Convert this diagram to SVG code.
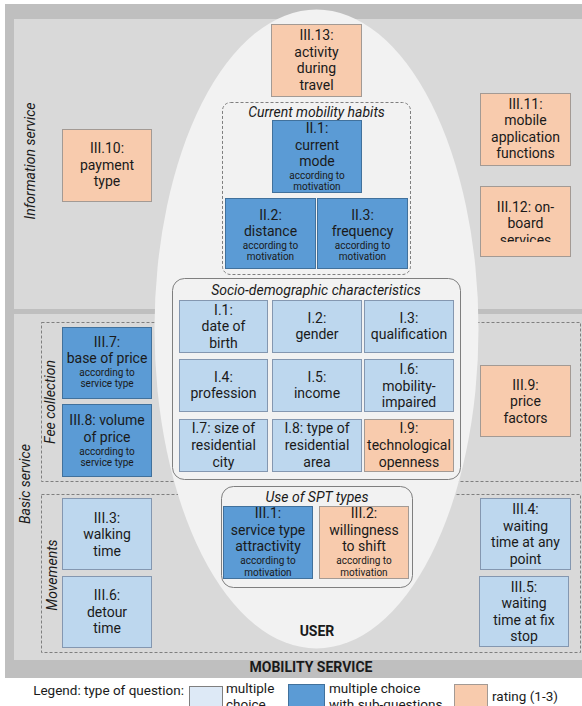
<svg xmlns="http://www.w3.org/2000/svg" width="582" height="706" viewBox="0 0 582 706">
<style>
text{font-family:Roboto,Lato,"DejaVu Sans",sans-serif;fill:#1a1a1a}
.t{font-size:14px;text-anchor:middle}
.s{font-size:10px;text-anchor:middle}
.ttl{font-size:14px;font-style:italic;text-anchor:middle}
.rot{font-size:14px;font-style:italic;text-anchor:middle}
.b{font-weight:bold;text-anchor:middle;font-size:14px}
.lg{font-size:13.5px}
.or{fill:#f8cbad;stroke:#a39a94;stroke-width:1}
.bl{fill:#5b9bd5;stroke:#41719c;stroke-width:1}
.lb{fill:#bdd7ee;stroke:#8497b0;stroke-width:1}
.dash{fill:none;stroke:#7f7f7f;stroke-width:1;stroke-dasharray:3 2}
.grp{fill:#f2f2f2;stroke:#7f7f7f;stroke-width:1}
</style>
<defs>
<clipPath id="clip12"><rect x="480" y="186" width="91" height="56"/></clipPath>
</defs>
<rect x="0" y="0" width="582" height="706" fill="#ffffff"/>
<g id="mobility-service">
<rect x="5" y="4" width="577" height="674" fill="#bfbfbf"/>
<text class="b" x="311" y="672">MOBILITY SERVICE</text>
</g>
<g id="information-service">
<rect x="14" y="19" width="568" height="290" fill="#d9d9d9"/>
<text class="rot" transform="translate(35,161) rotate(-90)">Information service</text>
</g>
<g id="basic-service">
<rect x="14" y="314" width="568" height="346" fill="#d9d9d9"/>
<text class="rot" transform="translate(30,484) rotate(-90)">Basic service</text>
</g>
<g id="fee-collection">
<rect class="dash" x="41.5" y="322.5" width="539" height="159"/>
<text class="rot" transform="translate(55,402) rotate(-90)">Fee collection</text>
</g>
<g id="movements">
<rect class="dash" x="41.5" y="494.5" width="539" height="158"/>
<text class="rot" transform="translate(57,575) rotate(-90)">Movements</text>
</g>
<g id="user">
<ellipse cx="316.5" cy="329" rx="162" ry="319.5" fill="#f2f2f2"/>
<text class="b" x="317" y="636">USER</text>
</g>
<g id="III.13">
<rect class="or" x="271.5" y="24.5" width="90" height="72"/>
<text class="t" x="316.5" y="40">III.13:<tspan x="316.5" y="56.7">activity</tspan><tspan x="316.5" y="73.4">during</tspan><tspan x="316.5" y="90">travel</tspan></text>
</g>
<g id="current-mobility-habits">
<rect class="dash" x="222.5" y="102.5" width="188" height="172" rx="8"/>
<text class="ttl" x="316.5" y="116.5">Current mobility habits</text>
</g>
<g id="II.1">
<rect class="bl" x="272.5" y="120.5" width="89" height="72"/>
<text class="t" x="317" y="133.2">II.1:<tspan x="317" y="149.6">current</tspan><tspan x="317" y="166">mode</tspan><tspan class="s" x="317" y="178.7">according to</tspan><tspan class="s" x="317" y="190.4">motivation</tspan></text>
</g>
<g id="II.2">
<rect class="bl" x="225.5" y="198.5" width="90" height="70"/>
<text class="t" x="270.5" y="219.5">II.2:<tspan x="270.5" y="236">distance</tspan><tspan class="s" x="270.5" y="248.7">according to</tspan><tspan class="s" x="270.5" y="260.4">motivation</tspan></text>
</g>
<g id="II.3">
<rect class="bl" x="317.5" y="198.5" width="90" height="70"/>
<text class="t" x="362.5" y="219.5">II.3:<tspan x="362.5" y="236">frequency</tspan><tspan class="s" x="362.5" y="248.7">according to</tspan><tspan class="s" x="362.5" y="260.4">motivation</tspan></text>
</g>
<g id="socio-demographic">
<rect class="grp" x="172.5" y="278.5" width="288" height="201" rx="12"/>
<text class="ttl" x="316" y="295">Socio-demographic characteristics</text>
</g>
<g id="I.1">
<rect class="lb" x="179.5" y="300.5" width="88" height="52"/>
<text class="t" x="223.5" y="314.5">I.1:<tspan x="223.5" y="331">date of</tspan><tspan x="223.5" y="347.5">birth</tspan></text>
</g>
<g id="I.2">
<rect class="lb" x="272.5" y="300.5" width="89" height="52"/>
<text class="t" x="317" y="322.5">I.2:<tspan x="317" y="339">gender</tspan></text>
</g>
<g id="I.3">
<rect class="lb" x="364.5" y="300.5" width="89" height="52"/>
<text class="t" x="409" y="322.5">I.3:<tspan x="409" y="339">qualification</tspan></text>
</g>
<g id="I.4">
<rect class="lb" x="179.5" y="359.5" width="88" height="52"/>
<text class="t" x="223.5" y="381.5">I.4:<tspan x="223.5" y="398">profession</tspan></text>
</g>
<g id="I.5">
<rect class="lb" x="272.5" y="359.5" width="89" height="52"/>
<text class="t" x="317" y="381.5">I.5:<tspan x="317" y="398">income</tspan></text>
</g>
<g id="I.6">
<rect class="lb" x="364.5" y="359.5" width="89" height="52"/>
<text class="t" x="409" y="374">I.6:<tspan x="409" y="390.5">mobility-</tspan><tspan x="409" y="407">impaired</tspan></text>
</g>
<g id="I.7">
<rect class="lb" x="179.5" y="419.5" width="88" height="52"/>
<text class="t" x="223.5" y="433">I.7: size of<tspan x="223.5" y="450">residential</tspan><tspan x="223.5" y="467">city</tspan></text>
</g>
<g id="I.8">
<rect class="lb" x="272.5" y="419.5" width="89" height="52"/>
<text class="t" x="317" y="433">I.8: type of<tspan x="317" y="450">residential</tspan><tspan x="317" y="467">area</tspan></text>
</g>
<g id="I.9">
<rect class="or" x="364.5" y="419.5" width="89" height="52"/>
<text class="t" x="409" y="433">I.9:<tspan x="409" y="450">technological</tspan><tspan x="409" y="467">openness</tspan></text>
</g>
<g id="use-of-spt-types">
<rect class="grp" x="221.5" y="486.5" width="191" height="101" rx="12"/>
<text class="ttl" x="317" y="501.5">Use of SPT types</text>
</g>
<g id="III.1">
<rect class="bl" x="223.5" y="506.5" width="89" height="72"/>
<text class="t" x="268" y="518">III.1:<tspan x="268" y="534.6">service type</tspan><tspan x="268" y="551.2">attractivity</tspan><tspan class="s" x="268" y="564">according to</tspan><tspan class="s" x="268" y="575.7">motivation</tspan></text>
</g>
<g id="III.2">
<rect class="or" x="319.5" y="506.5" width="89" height="72"/>
<text class="t" x="364" y="518">III.2:<tspan x="364" y="534.6">willingness</tspan><tspan x="364" y="551.2">to shift</tspan><tspan class="s" x="364" y="564">according to</tspan><tspan class="s" x="364" y="575.7">motivation</tspan></text>
</g>
<g id="III.10">
<rect class="or" x="62.5" y="129.5" width="89" height="72"/>
<text class="t" x="107" y="153">III.10:<tspan x="107" y="169.5">payment</tspan><tspan x="107" y="186">type</tspan></text>
</g>
<g id="III.11">
<rect class="or" x="480.5" y="93.5" width="90" height="72"/>
<text class="t" x="525.5" y="108.5">III.11:<tspan x="525.5" y="125">mobile</tspan><tspan x="525.5" y="141.5">application</tspan><tspan x="525.5" y="158">functions</tspan></text>
</g>
<g id="III.12">
<rect class="or" x="480.5" y="186.5" width="90" height="70"/>
<text class="t" x="525.5" y="211.5" clip-path="url(#clip12)">III.12: on-<tspan x="525.5" y="228">board</tspan><tspan x="525.5" y="244.5">services</tspan></text>
</g>
<g id="III.7">
<rect class="bl" x="62.5" y="327.5" width="89" height="71"/>
<text class="t" x="107" y="346.5">III.7:<tspan x="107" y="363">base of price</tspan><tspan class="s" x="107" y="375.7">according to</tspan><tspan class="s" x="107" y="387.4">service type</tspan></text>
</g>
<g id="III.8">
<rect class="bl" x="62.5" y="404.5" width="89" height="72"/>
<text class="t" x="107" y="425">III.8: volume<tspan x="107" y="442">of price</tspan><tspan class="s" x="107" y="454.7">according to</tspan><tspan class="s" x="107" y="466.4">service type</tspan></text>
</g>
<g id="III.9">
<rect class="or" x="480.5" y="365.5" width="90" height="71"/>
<text class="t" x="525.5" y="389.5">III.9:<tspan x="525.5" y="406">price</tspan><tspan x="525.5" y="422.5">factors</tspan></text>
</g>
<g id="III.3">
<rect class="lb" x="62.5" y="498.5" width="89" height="71"/>
<text class="t" x="107" y="522.5">III.3:<tspan x="107" y="539">walking</tspan><tspan x="107" y="555.5">time</tspan></text>
</g>
<g id="III.6">
<rect class="lb" x="62.5" y="576.5" width="89" height="71"/>
<text class="t" x="107" y="600">III.6:<tspan x="107" y="616.5">detour</tspan><tspan x="107" y="633">time</tspan></text>
</g>
<g id="III.4">
<rect class="lb" x="480.5" y="498.5" width="90" height="71"/>
<text class="t" x="525.5" y="514">III.4:<tspan x="525.5" y="530.5">waiting</tspan><tspan x="525.5" y="547">time at any</tspan><tspan x="525.5" y="563.5">point</tspan></text>
</g>
<g id="III.5">
<rect class="lb" x="479.5" y="576.5" width="89" height="70"/>
<text class="t" x="524" y="591.5">III.5:<tspan x="524" y="608">waiting</tspan><tspan x="524" y="624.5">time at fix</tspan><tspan x="524" y="641">stop</tspan></text>
</g>
<g id="legend">
<text class="lg" x="184" y="695" text-anchor="end">Legend: type of question:</text>
<rect x="189.5" y="686.5" width="33" height="25" fill="#dde9f6" stroke="#7f7f7f"/>
<text class="lg" x="226" y="692.5">multiple<tspan x="226" y="708.5">choice</tspan></text>
<rect x="288.5" y="684.5" width="36" height="25" fill="#5b9bd5" stroke="#41719c"/>
<text class="lg" x="329" y="692.5">multiple choice<tspan x="329" y="708.5">with sub-questions</tspan></text>
<rect x="454.5" y="684.5" width="33" height="25" fill="#f8cbad" stroke="#a39a94"/>
<text class="lg" x="492" y="701">rating (1-3)</text>
</g>
</svg>
